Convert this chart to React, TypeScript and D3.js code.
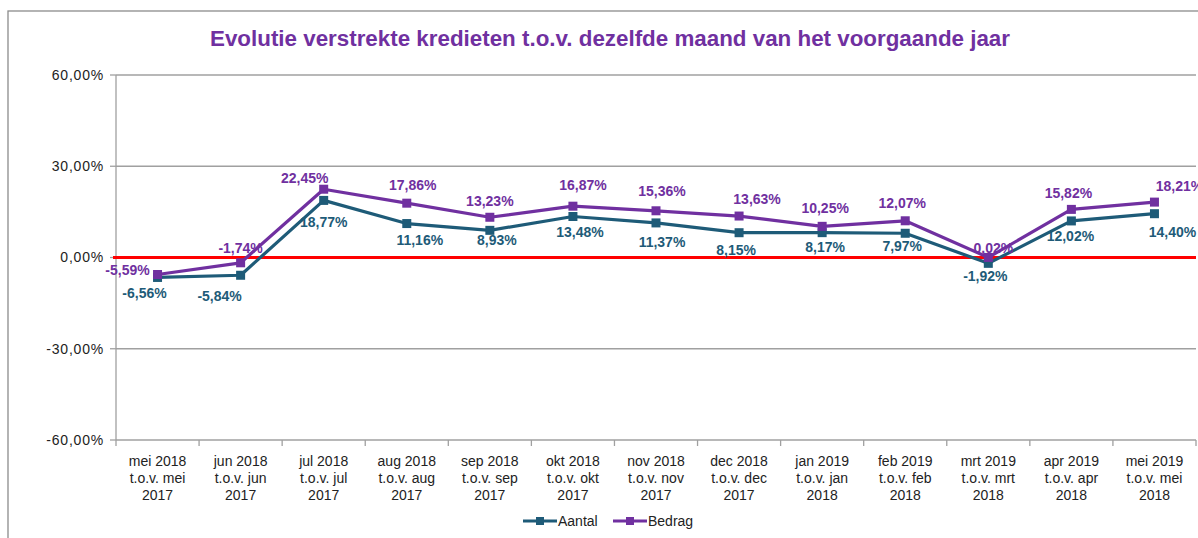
import React from "react";
import * as d3 from "d3";

const categories: string[][] = [
  ["mei 2018", "t.o.v. mei", "2017"],
  ["jun 2018", "t.o.v. jun", "2017"],
  ["jul 2018", "t.o.v. jul", "2017"],
  ["aug 2018", "t.o.v. aug", "2017"],
  ["sep 2018", "t.o.v. sep", "2017"],
  ["okt 2018", "t.o.v. okt", "2017"],
  ["nov 2018", "t.o.v. nov", "2017"],
  ["dec 2018", "t.o.v. dec", "2017"],
  ["jan 2019", "t.o.v. jan", "2018"],
  ["feb 2019", "t.o.v. feb", "2018"],
  ["mrt 2019", "t.o.v. mrt", "2018"],
  ["apr 2019", "t.o.v. apr", "2018"],
  ["mei 2019", "t.o.v. mei", "2018"],
];
const aantal = [-6.56, -5.84, 18.77, 11.16, 8.93, 13.48, 11.37, 8.15, 8.17, 7.97, -1.92, 12.02, 14.4];
const bedrag = [-5.59, -1.74, 22.45, 17.86, 13.23, 16.87, 15.36, 13.63, 10.25, 12.07, 0.02, 15.82, 18.21];
const yTicks = [-60, -30, 0, 30, 60];

// label nudges (dx, dy) relative to each point
const bedragLabelNudge = [[-30, -4], [0, -15], [-19, -11], [6, -18], [0, -16], [10, -21], [6, -20], [18, -17], [3, -18], [-3, -18], [5, -9], [-3, -16], [25, -16]];
const aantalLabelNudge = [[-13, 16], [-21, 21], [0, 22], [13, 17], [7, 10], [7, 16], [6, 19], [-3, 17], [3, 14], [-3, 13], [-3, 13], [-1, 15], [18, 18]];

const W = 1198, H = 538;
const left = 116, right = 1196, top = 75, bottom = 440;
const AANTAL = "#1E5B78";
const BEDRAG = "#7030A0";
const FONT = "'Liberation Sans', Arial, sans-serif";

const fmt = (v: number) => v.toFixed(2).replace(".", ",") + "%";

export default function App() {
  const idx = categories.map((_, i) => i);
  const x = d3.scaleBand<number>().domain(idx).range([left, right]);
  const cx = (i: number) => (x(i) as number) + x.bandwidth() / 2;
  const y = d3.scaleLinear().domain([-60, 60]).range([bottom, top]);
  const line = d3.line<number>().x((_, i) => cx(i)).y((d) => y(d));

  const series = [
    { name: "Aantal", data: aantal, color: AANTAL, nudge: aantalLabelNudge },
    { name: "Bedrag", data: bedrag, color: BEDRAG, nudge: bedragLabelNudge },
  ];

  return (
    <svg width={W} height={H} style={{ position: "absolute", left: 0, top: 0, background: "#fff" }} fontFamily={FONT}>
      <rect x={8} y={11} width={1300} height={700} fill="#fff" stroke="#8c8c8c" strokeWidth={1.3} />
      <text x={610} y={46} textAnchor="middle" fontSize={22} fontWeight="bold" fill={BEDRAG}
        textLength={800} lengthAdjust="spacingAndGlyphs">
        Evolutie verstrekte kredieten t.o.v. dezelfde maand van het voorgaande jaar
      </text>

      {/* gridlines */}
      {yTicks.map((t) => (
        <g key={t}>
          {t !== 0 && <line x1={left} x2={right} y1={y(t)} y2={y(t)} stroke="#a0a0a0" strokeWidth={1.3} />}
          <line x1={left - 6} x2={left} y1={y(t)} y2={y(t)} stroke="#a0a0a0" strokeWidth={1.3} />
          <text x={104} y={y(t)} dy="0.35em" textAnchor="end" fontSize={14} fill="#222" letterSpacing={0.8}>
            {fmt(t)}
          </text>
        </g>
      ))}
      <line x1={left} x2={left} y1={top} y2={bottom} stroke="#a0a0a0" strokeWidth={1.3} />
      {/* x ticks */}
      {idx.concat([categories.length]).map((i) => {
        const xx = i < categories.length ? (x(i) as number) : right;
        return <line key={i} x1={xx} x2={xx} y1={bottom} y2={bottom + 6} stroke="#a0a0a0" strokeWidth={1.3} />;
      })}
      {categories.map((c, i) => (
        <text key={i} x={cx(i)} textAnchor="middle" fontSize={14} fill="#222">
          {c.map((s, j) => (
            <tspan key={j} x={cx(i)} y={466 + j * 17}>{s}</tspan>
          ))}
        </text>
      ))}

      {/* zero line */}
      <line x1={113} x2={right} y1={y(0)} y2={y(0)} stroke="#ff0000" strokeWidth={3} />

      {series.map((s) => (
        <g key={s.name}>
          <path d={line(s.data) || ""} fill="none" stroke={s.color} strokeWidth={3.2} strokeLinejoin="round" />
          {s.data.map((v, i) => (
            <rect key={i} x={cx(i) - 4.5} y={y(v) - 4.5} width={9} height={9} fill={s.color} />
          ))}
        </g>
      ))}
      {series.map((s) => (
        <g key={s.name + "-labels"}>
          {s.data.map((v, i) => (
            <text key={i} x={cx(i) + s.nudge[i][0]} y={y(v) + s.nudge[i][1]} dy="0.35em" textAnchor="middle"
              fontSize={14} fontWeight="bold" fill={s.color}>
              {fmt(v)}
            </text>
          ))}
        </g>
      ))}

      {/* legend */}
      {series.map((s, k) => {
        const lx = 523 + k * 90;
        return (
          <g key={s.name + "-legend"}>
            <line x1={lx} x2={lx + 34} y1={521} y2={521} stroke={s.color} strokeWidth={3.2} />
            <rect x={lx + 13} y={517} width={8} height={8} fill={s.color} />
            <text x={lx + 35} y={526} fontSize={14} fill="#222">{s.name}</text>
          </g>
        );
      })}
    </svg>
  );
}
